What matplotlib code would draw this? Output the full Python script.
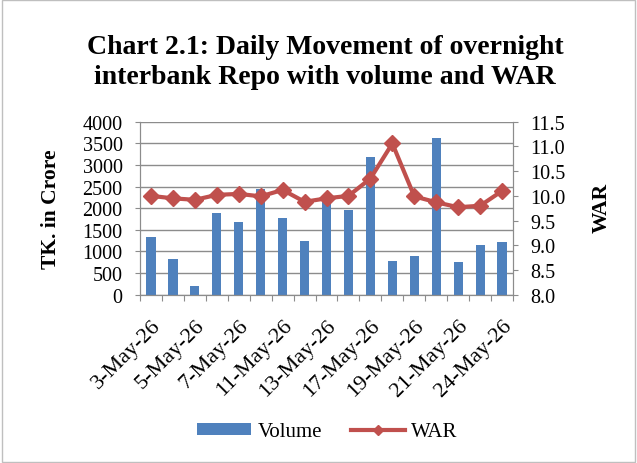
import matplotlib.pyplot as plt
import numpy as np
from matplotlib.patches import Rectangle

dates = ['3-May-26', '4-May-26', '5-May-26', '6-May-26', '7-May-26', '10-May-26',
         '11-May-26', '12-May-26', '13-May-26', '14-May-26', '17-May-26', '18-May-26',
         '19-May-26', '20-May-26', '21-May-26', '23-May-26', '24-May-26']
volume = [1334, 826, 208, 1896, 1674, 2444, 1773, 1242, 2200, 1958, 3191, 786,
          902, 3616, 756, 1156, 1225]
war = [10.00, 9.95, 9.92, 10.02, 10.04, 9.99, 10.12, 9.88, 9.95, 10.00, 10.35, 11.06,
       9.99, 9.87, 9.77, 9.80, 10.10]

plt.rcParams['font.family'] = ['Liberation Serif', 'DejaVu Serif']
grey = '#8c8c8c'

fig = plt.figure(figsize=(6.37, 4.64), dpi=100)
# light frame round the chart, like the Excel chart area
fig.patches.append(Rectangle((0.003, 0.003), 0.994, 0.994, transform=fig.transFigure,
                             fill=False, edgecolor='#bfbfbf', linewidth=1))

ax1 = fig.add_axes([0.2198, 0.3627, 0.5856, 0.3728])
x = np.arange(len(dates))
ax1.bar(x, volume, width=0.42, color='#4F81BD', label='Volume', zorder=2)
ax1.set_ylim(0, 4000)
ax1.set_yticks(np.arange(0, 4001, 500))
ax1.set_xlim(-0.5, len(dates) - 0.5)
ax1.yaxis.grid(True, color=grey, linewidth=1)
ax1.set_axisbelow(True)

# category ticks sit between bars, labels on every other date
ax1.set_xticks(np.arange(-0.5, len(dates), 1.0))
ax1.set_xticklabels([])
ax1.set_xticks(x[::2], minor=True)
ax1.set_xticklabels(dates[::2], minor=True, rotation=45, ha='right',
                    rotation_mode='anchor', fontsize=16)
ax1.tick_params(axis='x', which='major', length=4, color=grey, direction='out')
ax1.tick_params(axis='x', which='minor', length=0, pad=15)
ax1.tick_params(axis='y', labelsize=14.5, length=3.6, color=grey, pad=9)
ax1.set_ylabel('TK. in Crore', fontsize=15.5, fontweight='bold')
ax1.yaxis.set_label_coords(-0.212, 0.5)

ax1.spines['top'].set_visible(False)
for s in ['left', 'bottom', 'right']:
    ax1.spines[s].set_color(grey)

ax2 = ax1.twinx()
ax2.plot(x, war, color='#C0504D', linewidth=3, marker='D', markersize=8,
         label='WAR', zorder=3)
ax2.set_ylim(8.0, 11.5)
war_ticks = np.arange(8.0, 11.51, 0.5)
ax2.set_yticks(war_ticks)
ax2.set_yticklabels([f'{v:.1f}' for v in war_ticks])
ax2.tick_params(axis='y', labelsize=14.5, length=3.6, color=grey, pad=9)
ax2.set_ylabel('WAR', fontsize=15.5, fontweight='bold')
ax2.yaxis.set_label_coords(1.212, 0.51)
ax2.spines['top'].set_visible(False)
for s in ['left', 'bottom', 'right']:
    ax2.spines[s].set_color(grey)

fig.text(0.51, 0.866, 'Chart 2.1: Daily Movement of overnight\ninterbank Repo with volume and WAR',
         ha='center', va='center', fontsize=20, fontweight='bold', linespacing=1.27)

h1, l1 = ax1.get_legend_handles_labels()
h2, l2 = ax2.get_legend_handles_labels()
fig.legend(h1 + h2, l1 + l2, loc='center', bbox_to_anchor=(0.514, 0.067), ncol=2,
           frameon=False, fontsize=15, handlelength=2.6, handleheight=0.5,
           handletextpad=0.3, columnspacing=1.4, markerscale=0.7)

fig.savefig('out.png', dpi=100)
